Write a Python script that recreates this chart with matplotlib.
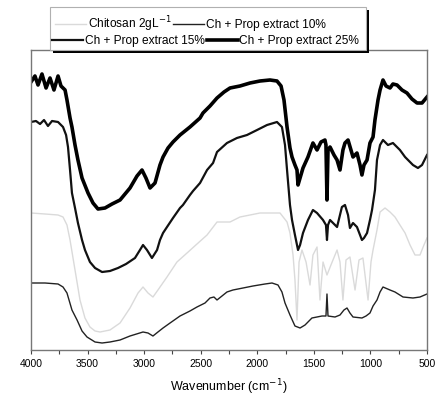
import matplotlib
matplotlib.use("Agg")
import matplotlib.pyplot as plt
from matplotlib.patches import Rectangle
from matplotlib.ticker import MultipleLocator

plt.rcParams["font.family"] = ["Liberation Sans", "DejaVu Sans"]

# wavenumber (cm-1) / transmittance (arb. units, curves are offset)
wn_chitosan = [4000, 3876, 3761, 3717, 3682, 3655, 3611, 3567, 3523, 3479, 3434, 3390, 3302,
               3213, 3125, 3054, 3010, 2966, 2922, 2878, 2798, 2710, 2621, 2533, 2444, 2356,
               2241, 2153, 1976, 1799, 1737, 1711, 1684, 1667, 1649, 1631, 1605, 1569, 1534,
               1508, 1472, 1446, 1419, 1384, 1349, 1295, 1269, 1243, 1216, 1181, 1136, 1101,
               1066, 1021, 995, 977, 942, 915, 871, 827, 783, 739, 694, 650, 606, 562, 527, 500]
t_chitosan = [137, 136, 135, 133, 125, 110, 80, 50, 32, 23, 19, 18, 20,
              27, 42, 57, 63, 57, 53, 60, 73, 88, 97, 106, 115, 128,
              128, 133, 137, 137, 128, 117, 95, 70, 30, 88, 100, 88, 65,
              95, 103, 50, 88, 75, 85, 100, 88, 50, 90, 93, 60, 90,
              92, 50, 88, 100, 120, 138, 142, 138, 133, 125, 117, 105, 95, 95, 105, 112]

wn_10 = [4000, 3876, 3761, 3717, 3682, 3638, 3593, 3549, 3505, 3434, 3372, 3302, 3213, 3125,
         3010, 2966, 2922, 2878, 2833, 2771, 2683, 2595, 2533, 2462, 2418, 2383, 2356, 2312,
         2268, 2215, 2126, 2038, 1932, 1870, 1817, 1782, 1755, 1711, 1667, 1622, 1578, 1517,
         1428, 1393, 1384, 1375, 1313, 1269, 1234, 1207, 1181, 1154, 1075, 1039, 1004, 977,
         942, 915, 889, 827, 783, 712, 624, 562, 500]
t_10 = [67, 67, 66, 63, 57, 40, 30, 19, 13, 8, 7, 8, 10, 14,
        18, 17, 14, 18, 22, 27, 34, 39, 43, 47, 52, 53, 50, 54,
        58, 60, 62, 64, 66, 67, 65, 58, 47, 35, 24, 22, 25, 32,
        34, 34, 56, 34, 33, 35, 40, 42, 37, 33, 32, 34, 37, 44,
        50, 58, 63, 60, 58, 53, 52, 53, 56]

wn_15 = [4000, 3956, 3920, 3885, 3850, 3814, 3761, 3717, 3690, 3673, 3655, 3638, 3611, 3585,
         3549, 3523, 3479, 3434, 3372, 3302, 3231, 3160, 3081, 3037, 3010, 2975, 2931, 2886,
         2860, 2833, 2798, 2745, 2683, 2657, 2595, 2568, 2506, 2444, 2391, 2356, 2268, 2180,
         2091, 2002, 1914, 1826, 1782, 1755, 1737, 1711, 1693, 1667, 1640, 1622, 1596, 1552,
         1508, 1472, 1419, 1393, 1384, 1375, 1357, 1295, 1252, 1225, 1198, 1181, 1154, 1119,
         1075, 1057, 1030, 1004, 986, 960, 942, 915, 889, 845, 801, 739, 694, 624, 580, 544, 500]
t_15 = [228, 229, 226, 230, 224, 229, 228, 223, 215, 203, 180, 157, 142, 127,
        110, 100, 88, 82, 78, 79, 82, 86, 92, 100, 105, 100, 92, 100,
        110, 117, 123, 132, 142, 145, 155, 159, 167, 180, 187, 198, 207, 212,
        215, 220, 225, 228, 223, 205, 180, 145, 130, 115, 100, 105, 117, 130,
        140, 137, 130, 125, 110, 125, 130, 123, 143, 145, 135, 122, 127, 123,
        110, 112, 117, 130, 140, 160, 190, 205, 210, 205, 207, 200, 193, 185, 182, 185, 195]

wn_25 = [4000, 3965, 3938, 3903, 3867, 3832, 3797, 3761, 3735, 3699, 3682, 3655, 3638, 3611,
         3585, 3549, 3496, 3452, 3408, 3346, 3284, 3213, 3125, 3063, 3019, 2984, 2948, 2904,
         2860, 2833, 2789, 2745, 2683, 2595, 2506, 2480, 2418, 2356, 2294, 2241, 2153, 2064,
         1976, 1888, 1826, 1790, 1764, 1737, 1711, 1693, 1667, 1649, 1640, 1622, 1596, 1552,
         1508, 1472, 1437, 1402, 1393, 1384, 1375, 1357, 1322, 1295, 1269, 1243, 1225, 1198,
         1172, 1154, 1119, 1092, 1075, 1057, 1030, 1004, 977, 960, 933, 915, 889, 862, 827,
         801, 765, 721, 677, 633, 588, 544, 500]
t_25 = [268, 274, 265, 276, 262, 272, 260, 274, 264, 260, 250, 232, 223, 205,
        190, 172, 157, 147, 141, 142, 146, 150, 162, 174, 180, 172, 162, 167,
        185, 193, 202, 208, 215, 223, 232, 237, 244, 252, 258, 262, 264, 267,
        269, 270, 269, 264, 250, 223, 202, 193, 185, 180, 165, 172, 182, 193,
        207, 200, 208, 210, 205, 150, 200, 203, 195, 190, 180, 200, 207, 210,
        200, 193, 197, 185, 175, 185, 190, 207, 213, 230, 250, 260, 270, 264, 262,
        266, 265, 260, 257, 251, 247, 247, 253]

labels = ["Chitosan 2gL$^{-1}$", "Ch + Prop extract 10%",
          "Ch + Prop extract 15%", "Ch + Prop extract 25%"]

W, H = 436, 401
fig = plt.figure(figsize=(W / 100, H / 100), dpi=100)
ax = fig.add_axes([31 / W, 51 / H, 396 / W, 300 / H])

l_chi, = ax.plot(wn_chitosan, t_chitosan, color="#dadada", lw=1.0, label=labels[0])
l_10, = ax.plot(wn_10, t_10, color="#222222", lw=1.0, label=labels[1])
l_15, = ax.plot(wn_15, t_15, color="#111111", lw=1.6, label=labels[2])
l_25, = ax.plot(wn_25, t_25, color="black", lw=2.6, label=labels[3])

ax.set_xlim(4000, 500)
ax.set_ylim(0, 300)
ax.set_yticks([])
ax.xaxis.set_major_locator(MultipleLocator(500))
ax.xaxis.set_minor_locator(MultipleLocator(250))
ax.tick_params(axis="x", which="both", direction="out", length=3, width=0.8,
               colors="#444444", labelsize=7.5, labelcolor="black")
for side in ax.spines.values():
    side.set_color("#777777")
    side.set_linewidth(1.0)
ax.set_xlabel("Wavenumber (cm$^{-1}$)", fontsize=9, labelpad=6)

# legend box with a solid drop shadow, two free-flowing rows inside
fig.patches.append(Rectangle((53 / W, 1 - 53 / H), 316 / W, 43 / H,
                             transform=fig.transFigure, facecolor="black",
                             edgecolor="none", zorder=9))
fig.patches.append(Rectangle((50 / W, 1 - 50 / H), 316 / W, 43 / H,
                             transform=fig.transFigure, facecolor="white",
                             edgecolor="#b0b0b0", lw=0.8, zorder=9.5))

leg_kw = dict(ncol=2, loc="center left", bbox_transform=fig.transFigure,
              fontsize=8.6, frameon=False, handlelength=2.6, handletextpad=0.15,
              columnspacing=0.15, borderpad=0.0, borderaxespad=0.0)
row1 = fig.legend([l_chi, l_10], [labels[0], labels[1]],
                  bbox_to_anchor=(55 / W, 1 - 24 / H), **leg_kw)
row2 = fig.legend([l_15, l_25], [labels[2], labels[3]],
                  bbox_to_anchor=(52 / W, 1 - 41 / H), **leg_kw)
row1.set_zorder(10)
row2.set_zorder(10)

fig.savefig("out.png", dpi=100)
